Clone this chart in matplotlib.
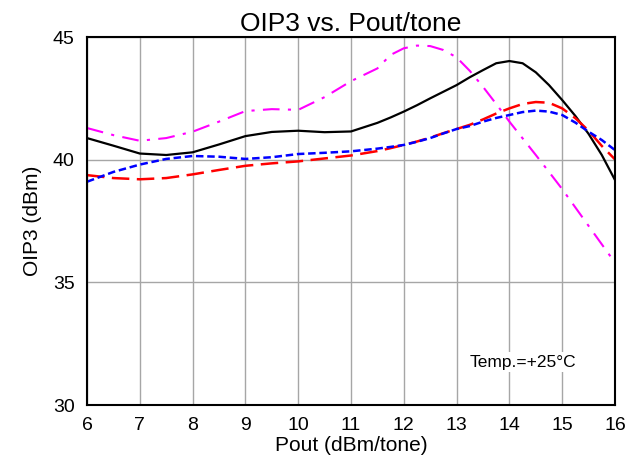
import matplotlib
matplotlib.use("Agg")
import matplotlib.pyplot as plt

plt.rcParams["font.family"] = ["Liberation Sans", "DejaVu Sans"]

# OIP3 (dBm) versus output power per tone, four measurement sets at +25 C
pout = [6, 6.5, 7, 7.5, 8, 8.5, 9, 9.5, 10, 10.5, 11, 11.5, 11.75, 12, 12.25, 12.5, 12.75,
        13, 13.25, 13.5, 13.75, 14, 14.25, 14.5, 14.75, 15, 15.25, 15.5, 15.75, 16]

oip3_black = [40.88, 40.57, 40.25, 40.19, 40.3, 40.62, 40.96, 41.13, 41.18, 41.12, 41.15, 41.5,
              41.72, 41.96, 42.22, 42.5, 42.77, 43.04, 43.36, 43.65, 43.93, 44.02, 43.93, 43.56,
              43.04, 42.43, 41.78, 41.05, 40.19, 39.17]
oip3_magenta = [41.29, 41.0, 40.77, 40.88, 41.14, 41.55, 41.98, 42.06, 42.03, 42.55, 43.2, 43.72,
                44.27, 44.54, 44.65, 44.63, 44.47, 44.17, 43.62, 42.97, 42.27, 41.55, 40.87, 40.19,
                39.5, 38.8, 38.05, 37.3, 36.55, 35.8]
oip3_red = [39.37, 39.25, 39.2, 39.25, 39.4, 39.58, 39.75, 39.85, 39.93, 40.05, 40.17, 40.35,
            40.47, 40.6, 40.74, 40.9, 41.08, 41.25, 41.42, 41.64, 41.88, 42.09, 42.27, 42.35,
            42.32, 42.09, 41.69, 41.18, 40.56, 40.01]
oip3_blue = [39.1, 39.5, 39.8, 40.03, 40.15, 40.12, 40.03, 40.1, 40.23, 40.28, 40.34, 40.45,
             40.52, 40.6, 40.73, 40.88, 41.07, 41.25, 41.37, 41.55, 41.7, 41.82, 41.94, 42.0,
             41.96, 41.82, 41.51, 41.14, 40.8, 40.39]

x_ticks = list(range(6, 17))
y_ticks = [30, 35, 40, 45]

fig = plt.figure(figsize=(6.4, 4.67), dpi=100)
ax = fig.add_axes([87 / 640, 1 - 405 / 467, 528 / 640, 368 / 467])

ax.plot(pout, oip3_black, color="black", lw=1.6)
ax.plot(pout, oip3_magenta, color="#ff00ff", lw=1.5, dashes=(8, 4, 1.5, 4))
ax.plot(pout, oip3_red, color="#ff0000", lw=1.8, dashes=(7, 3))
ax.plot(pout, oip3_blue, color="#0000ff", lw=1.8, dashes=(3, 1.5))

ax.set_xlim(6, 16)
ax.set_ylim(30, 45)
ax.set_xticks(x_ticks)
ax.set_yticks(y_ticks)
ax.grid(True, color="#a6a6a6", lw=1)
ax.set_axisbelow(True)
ax.tick_params(length=0, labelsize=14, pad=9)
for spine in ax.spines.values():
    spine.set_linewidth(1.5)

ax.set_title("OIP3 vs. Pout/tone", fontsize=19, pad=4)
ax.set_xlabel("Pout (dBm/tone)", fontsize=15, labelpad=1)
ax.set_ylabel("OIP3 (dBm)", fontsize=15, labelpad=8)

ax.text(13.25, 31.75, "Temp.=+25°C", fontsize=12.5, va="center", ha="left",
        bbox=dict(facecolor="white", edgecolor="none", pad=2))

fig.savefig("out.png", dpi=100)
